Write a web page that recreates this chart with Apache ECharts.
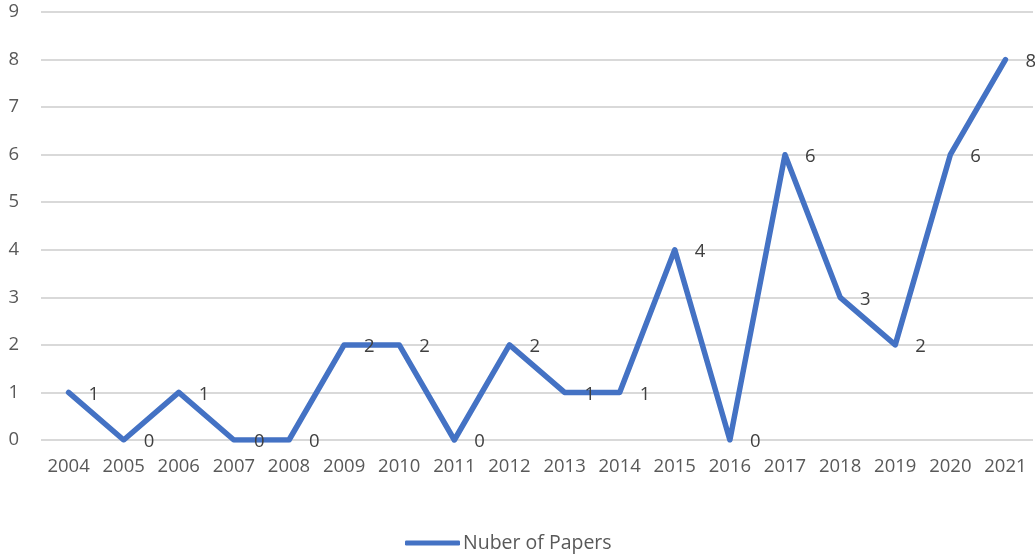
<!DOCTYPE html>
<html>
<head>
<meta charset="utf-8">
<style>
  html, body { margin: 0; padding: 0; background: #fff; }
  #chart { width: 1035px; height: 554px; }
</style>
<script src="https://cdn.jsdelivr.net/npm/echarts@6/dist/echarts.min.js"></script>
</head>
<body>
<div id="chart"></div>
<script>
// Yearly counts of published papers
const years = ['2004','2005','2006','2007','2008','2009','2010','2011','2012',
               '2013','2014','2015','2016','2017','2018','2019','2020','2021'];
const papers = [1, 0, 1, 0, 0, 2, 2, 0, 2, 1, 1, 4, 0, 6, 3, 2, 6, 8];
const seriesName = 'Nuber of Papers';

const font = '"Open Sans", Lato, sans-serif';
const chart = echarts.init(document.getElementById('chart'), null, { renderer: 'canvas' });

chart.setOption({
  animation: false,
  backgroundColor: '#ffffff',
  grid: { left: 41, right: 2, top: 12, bottom: 114 },
  legend: {
    data: [{ name: seriesName, icon: 'roundRect' }],
    left: 400,
    top: 528,
    itemWidth: 55,
    itemHeight: 5,
    itemGap: 0,
    textStyle: { fontFamily: font, fontSize: 19.5, color: '#595959', padding: [0, 0, 0, -2] }
  },
  xAxis: {
    type: 'category',
    data: years,
    boundaryGap: true,
    axisLine: { show: false },
    axisTick: { show: false },
    axisLabel: { fontFamily: font, fontSize: 18.5, color: '#595959', margin: 17, interval: 0 }
  },
  yAxis: {
    type: 'value',
    min: 0,
    max: 9,
    interval: 1,
    axisLine: { show: false },
    axisTick: { show: false },
    axisLabel: { fontFamily: font, fontSize: 18.5, color: '#595959', margin: 22 },
    splitLine: { lineStyle: { color: '#d9d9d9', width: 2 } }
  },
  series: [{
    name: seriesName,
    type: 'line',
    data: papers,
    showSymbol: true,
    symbol: 'circle',
    symbolSize: 0,
    lineStyle: { color: '#4472c4', width: 5.5, join: 'round', cap: 'round' },
    itemStyle: { color: '#4472c4' },
    label: {
      show: true,
      position: 'right',
      distance: 20,
      offset: [0, 2],
      fontFamily: font,
      fontSize: 18.5,
      color: '#404040'
    }
  }]
});
</script>
</body>
</html>
